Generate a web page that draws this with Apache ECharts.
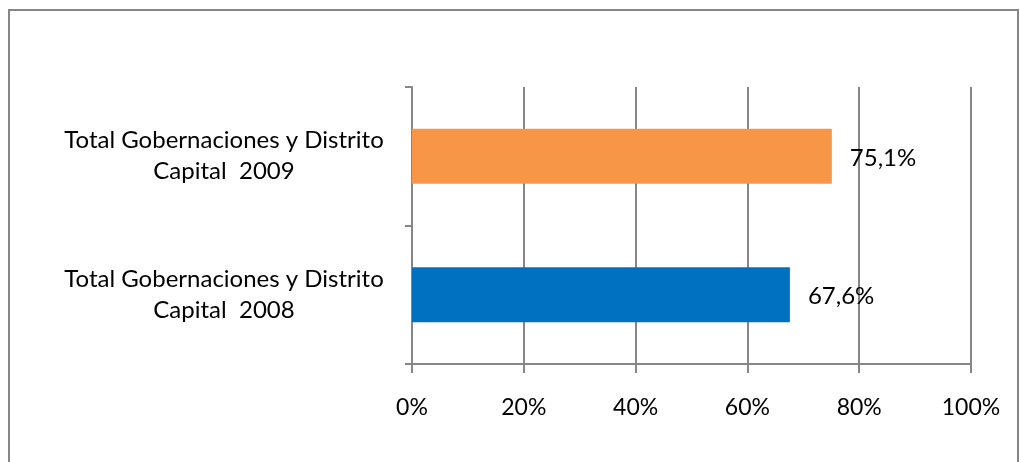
<!DOCTYPE html>
<html>
<head>
<meta charset="utf-8">
<script src="https://cdn.jsdelivr.net/npm/echarts@6/dist/echarts.min.js"></script>
<style>
html,body{margin:0;padding:0;background:#fff;}
#c{width:1020px;height:462px;}
</style>
</head>
<body>
<div id="c"></div>
<script>
const categories = ['Total Gobernaciones y Distrito\nCapital  2008', 'Total Gobernaciones y Distrito\nCapital  2009'];
const values = [67.6, 75.1];
const barColors = ['#0070C0', '#F79646'];
const xTicks = [0, 20, 40, 60, 80, 100];

const FONT = 'Lato';
const chart = echarts.init(document.getElementById('c'), null, {renderer: 'canvas'});
chart.setOption({
  animation: false,
  backgroundColor: '#fff',
  graphic: [{
    type: 'rect',
    shape: {x: 9, y: 10, width: 1009, height: 470},
    style: {fill: 'none', stroke: '#868686', lineWidth: 2},
    silent: true
  }],
  grid: {left: 412, right: 49, top: 87, bottom: 98, containLabel: false},
  xAxis: {
    type: 'value',
    min: xTicks[0], max: xTicks[xTicks.length - 1], interval: 20,
    axisLine: {show: true, lineStyle: {color: '#868686', width: 2}},
    axisTick: {show: true, length: 9, lineStyle: {color: '#868686', width: 2}},
    splitLine: {show: true, lineStyle: {color: '#868686', width: 2}},
    axisLabel: {
      margin: 32, color: '#000', fontFamily: FONT, fontSize: 23,
      formatter: v => v + '%'
    }
  },
  yAxis: {
    type: 'category',
    data: categories,
    axisLine: {show: true, lineStyle: {color: '#868686', width: 2}},
    axisTick: {show: true, length: 7, lineStyle: {color: '#868686', width: 2}},
    axisLabel: {
      margin: 188, align: 'center', color: '#000', fontFamily: FONT,
      fontSize: 24, lineHeight: 31, padding: [4, 0, 0, 0]
    }
  },
  series: [{
    type: 'bar',
    barWidth: 55,
    data: values.map((v, i) => ({value: v, itemStyle: {color: barColors[i]}})),
    label: {
      show: true, position: 'right', distance: 18, color: '#000',
      fontFamily: FONT, fontSize: 24, offset: [0, 2],
      formatter: p => p.value.toFixed(1).replace('.', ',') + '%'
    }
  }]
});
</script>
</body>
</html>
